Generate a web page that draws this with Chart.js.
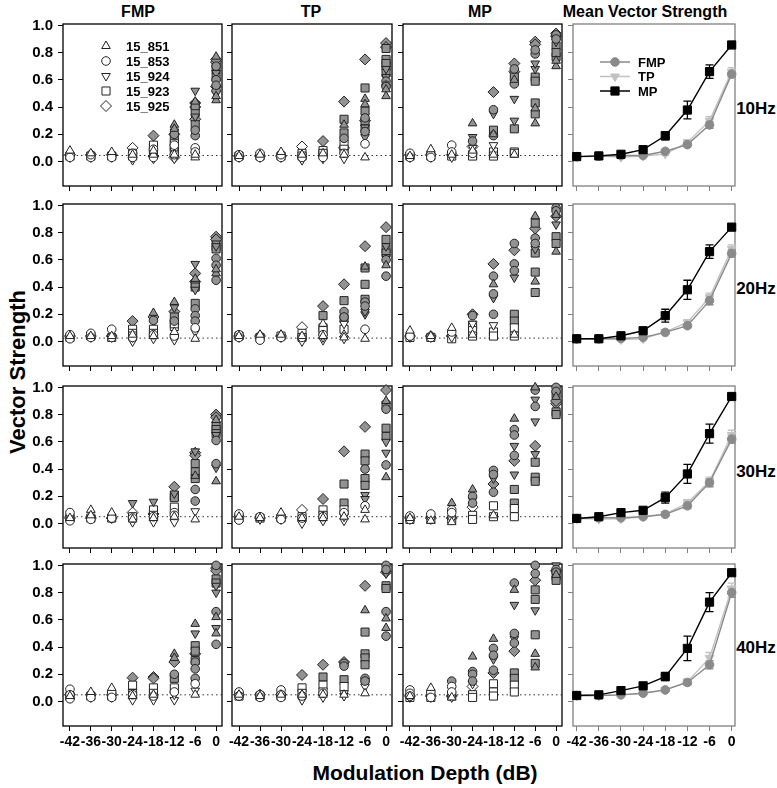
<!DOCTYPE html>
<html>
<head>
<meta charset="utf-8">
<script src="https://cdn.jsdelivr.net/npm/chart.js@4.4.1/dist/chart.umd.min.js"></script>
<style>
body { margin:0; background:#fff; width:777px; height:788px; position:relative; overflow:hidden; font-family:"Liberation Sans", Arial, sans-serif; color:#000; }
.lbl { position:absolute; white-space:nowrap; font-weight:bold; transform:translate(-50%,-50%); }
canvas { position:absolute; }
</style>
</head>
<body>
<div class="lbl" style="left:138px;top:12px;font-size:16px">FMP</div>
<div class="lbl" style="left:311px;top:12px;font-size:16px">TP</div>
<div class="lbl" style="left:480px;top:12px;font-size:16px">MP</div>
<div class="lbl" style="left:645px;top:12px;font-size:16px">Mean Vector Strength</div>
<div class="lbl" style="left:756px;top:109px;font-size:17px">10Hz</div>
<div class="lbl" style="left:756px;top:289px;font-size:17px">20Hz</div>
<div class="lbl" style="left:756px;top:472px;font-size:17px">30Hz</div>
<div class="lbl" style="left:756px;top:648px;font-size:17px">40Hz</div>
<div class="lbl" style="left:18px;top:372px;font-size:22px;transform:translate(-50%,-50%) rotate(-90deg)">Vector Strength</div>
<div class="lbl" style="left:425px;top:773px;font-size:21px">Modulation Depth (dB)</div>
<script>
// modulation depths (dB) and tick values
const depths = [-42, -36, -30, -24, -18, -12, -6, 0];
const yTicks = [0, 0.2, 0.4, 0.6, 0.8, 1.0];
const animals = ['15_851', '15_853', '15_924', '15_923', '15_925'];
const floorLevels = [0.044, 0.025, 0.05, 0.049]; // dotted noise floor per rate
const sigLevel = 0.14;

// scatter panels: one entry per animal (851, 853, 924, 923, 925), 8 depths each
const fmp10 = [
  [[0.08],[0.06],[0.07],[0.05],[0.05,0.08],[0.27,0.24,0.05],[0.44,0.03,0.05],[0.77,0.45,0.48]],
  [[0.05,0.03],[0.03,0.05],[0.04,0.03],[0.06,0.03],[0.03,0.09],[0.12,0.05,0.2],[0.19,0.23,0.1,0.07],[0.6,0.52,0.56,0.7]],
  [[0.03],[0.03],[0.03],[0.01,0.03],[0.02,0.06],[0.22,0.02,0.08],[0.52,0.33,0.05],[0.65,0.7,0.5]],
  [[0.04],[0.04],[0.04],[0.04,0.06],[0.07,0.1,0.12],[0.1,0.07,0.16,0.13],[0.27,0.36,0.41],[0.62,0.68]],
  [[0.05],[0.05],[0.05],[0.1],[0.19,0.04],[0.2,0.03],[0.4,0.43,0.31],[0.73,0.75,0.55]]
];
const tp10 = [
  [[0.04],[0.05],[0.07],[0.05],[0.06],[0.27,0.05],[0.46,0.42,0.03],[0.53,0.48]],
  [[0.05,0.03],[0.06,0.03],[0.03,0.05],[0.03],[0.03],[0.17,0.06],[0.32,0.13,0.22],[0.59,0.56,0.55]],
  [[0.03],[0.03],[0.03],[0.01],[0.02],[0.07,0.02],[0.18,0.25],[0.68,0.62]],
  [[0.04],[0.04],[0.04],[0.06,0.04],[0.08,0.05,0.06],[0.31,0.21,0.13,0.09],[0.54,0.37,0.29,0.24],[0.83,0.75,0.7,0.65,0.72]],
  [[0.04],[0.04],[0.04],[0.11],[0.15],[0.44,0.1],[0.75,0.3],[0.87,0.84]]
];
const mp10 = [
  [[0.04],[0.09],[0.05],[0.28,0.08],[0.2,0.05],[0.6,0.05],[0.28,0.39],[0.7,0.74]],
  [[0.06,0.03],[0.05,0.03],[0.12,0.07],[0.15,0.06],[0.38,0.19],[0.68,0.57],[0.79,0.82],[0.93,0.9]],
  [[0.03],[0.03],[0.03],[0.18,0.1],[0.35,0.12],[0.46,0.3],[0.68,0.72],[0.9,0.88]],
  [[0.04],[0.04],[0.04],[0.05,0.04],[0.23,0.07,0.04],[0.62,0.24,0.07,0.06],[0.62,0.59,0.43,0.35],[0.85,0.77,0.8]],
  [[0.05],[0.05],[0.05],[0.11],[0.51],[0.72,0.66],[0.88,0.86],[0.94,0.92]]
];
const fmp20 = [
  [[0.04],[0.04],[0.04],[0.05],[0.21,0.04],[0.29,0.07],[0.46,0.02],[0.5,0.53]],
  [[0.05,0.02],[0.06,0.03],[0.09,0.03],[0.03],[0.155,0.05],[0.15,0.04],[0.24,0.19,0.15,0.1],[0.61,0.56,0.45]],
  [[0.03],[0.03],[0.03],[0.0,0.03],[0.02],[0.25,0.01],[0.57,0.38,0.07],[0.72,0.7]],
  [[0.03],[0.04],[0.03],[0.09,0.06,0.04],[0.09,0.06],[0.18,0.11,0.13],[0.42,0.28,0.4],[0.7,0.68]],
  [[0.04],[0.04],[0.04],[0.15],[0.18],[0.22],[0.5,0.44],[0.77,0.75]]
];
const tp20 = [
  [[0.04],[0.05],[0.05],[0.04],[0.13,0.04],[0.05,0.03],[0.55,0.02],[0.56]],
  [[0.05,0.03],[0.01],[0.03],[0.03],[0.05],[0.22,0.18],[0.29,0.26,0.09],[0.6,0.48]],
  [[0.03],[0.03],[0.03],[0.0],[0.01,0.03],[0.13,0.02],[0.2,0.22],[0.7,0.62]],
  [[0.04],[0.03],[0.04],[0.06,0.03],[0.19,0.1,0.08],[0.3,0.17,0.09],[0.54,0.42,0.31],[0.75,0.68,0.65]],
  [[0.04],[0.04],[0.04],[0.105],[0.26],[0.42],[0.7],[0.84]]
];
const mp20 = [
  [[0.08],[0.04],[0.1],[0.05],[0.42],[0.05],[0.92,0.44],[0.66,0.93]],
  [[0.04],[0.03],[0.07],[0.19],[0.48,0.35,0.2],[0.72,0.57,0.52],[0.76,0.72],[0.98,0.96]],
  [[0.03],[0.03],[0.03],[0.13],[0.32,0.12],[0.47],[0.68],[0.86]],
  [[0.03],[0.03],[0.02],[0.12,0.08,0.04],[0.07,0.04],[0.2,0.15,0.1,0.04],[0.87,0.65,0.51,0.36],[0.77,0.72]],
  [[0.04],[0.04],[0.04],[0.2],[0.57],[0.67],[0.83],[0.92]]
];
const fmp30 = [
  [[0.04],[0.1,0.06],[0.08],[0.03],[0.04],[0.05],[0.35,0.03],[0.31,0.76]],
  [[0.08,0.02],[0.03],[0.04],[0.04],[0.05],[0.08,0.06],[0.25,0.165],[0.61,0.44]],
  [[0.04],[0.04],[0.04],[0.15,0.01],[0.16,0.01],[0.01,0.22],[0.53,0.09],[0.41,0.65]],
  [[0.04],[0.04],[0.04],[0.05],[0.1,0.06],[0.2,0.19,0.12],[0.44,0.38,0.33],[0.72,0.69,0.66]],
  [[0.04],[0.04],[0.04],[0.08],[0.07],[0.27],[0.52,0.5],[0.8,0.78]]
];
const tp30 = [
  [[0.05],[0.04],[0.08],[0.04],[0.04],[0.05],[0.03,0.1],[0.9,0.34]],
  [[0.07,0.025],[0.05],[0.05,0.03],[0.04],[0.05],[0.08],[0.4,0.13],[0.84,0.43]],
  [[0.04],[0.03],[0.03],[0.0],[0.02],[0.02,0.05],[0.21,0.18],[0.6,0.52]],
  [[0.04],[0.04],[0.04],[0.05],[0.1,0.06],[0.29,0.15,0.1],[0.51,0.46,0.33,0.28],[0.87,0.7,0.64]],
  [[0.05],[0.04],[0.04],[0.1],[0.18],[0.53],[0.71],[0.98]]
];
const mp30 = [
  [[0.04],[0.02],[0.15,0.01],[0.25],[0.06],[0.77],[1.0],[0.93]],
  [[0.055,0.03],[0.07],[0.1,0.08],[0.2,0.15],[0.39,0.36,0.23],[0.69,0.65,0.5],[0.98,0.86],[1.0,0.97]],
  [[0.03],[0.03],[0.03],[0.17],[0.33],[0.57,0.36],[0.91,0.75,0.51],[0.99]],
  [[0.03],[0.03],[0.03],[0.06,0.03],[0.13,0.05],[0.25,0.15,0.11,0.05],[0.45,0.34,0.31],[0.95,0.82,0.8]],
  [[0.04],[0.04],[0.04],[0.12],[0.29],[0.46],[0.57],[0.88,0.9]]
];
const fmp40 = [
  [[0.04],[0.07],[0.1],[0.04],[0.05],[0.35,0.32],[0.57,0.05],[0.62,0.5]],
  [[0.09,0.05,0.02],[0.03],[0.07,0.03],[0.05],[0.04],[0.2,0.07],[0.29,0.24,0.17,0.13],[1.0,0.66,0.42]],
  [[0.03],[0.03],[0.03],[0.01,0.07],[0.01],[0.01,0.05],[0.5,0.08],[0.8,0.54,0.85]],
  [[0.04],[0.04],[0.04],[0.12,0.05],[0.1,0.06],[0.17,0.1],[0.41,0.37,0.3],[0.9,0.87]],
  [[0.05],[0.05],[0.05],[0.175],[0.18,0.17],[0.29],[0.35],[0.98,0.96]]
];
const tp40 = [
  [[0.05],[0.04],[0.05],[0.05],[0.05],[0.05],[0.67,0.06],[0.61,0.54]],
  [[0.07,0.04],[0.05,0.03],[0.085,0.05,0.03],[0.04],[0.06],[0.28,0.26],[0.17,0.15],[1.0,0.97,0.66,0.48]],
  [[0.04],[0.04],[0.04],[0.01],[0.03],[0.06,0.04],[0.13,0.11],[0.94]],
  [[0.04],[0.04],[0.04],[0.1,0.06],[0.18,0.12,0.07],[0.16,0.11],[0.51,0.35,0.32,0.27],[0.85,0.83]],
  [[0.05],[0.05],[0.05],[0.195],[0.27],[0.29],[0.85],[0.95]]
];
const mp40 = [
  [[0.04],[0.1],[0.03],[0.33],[0.46],[0.82],[0.35,0.25],[0.93]],
  [[0.085,0.06,0.04],[0.07,0.03],[0.15,0.11,0.07],[0.22,0.2,0.15],[0.39,0.34,0.23],[0.87,0.5,0.43],[1.0,0.94],[0.97,0.95]],
  [[0.03],[0.03],[0.03],[0.13],[0.31],[0.71,0.46],[0.67],[1.0]],
  [[0.03],[0.03],[0.04],[0.05,0.03],[0.13,0.07,0.04],[0.21,0.17,0.12,0.07],[0.82,0.75,0.49,0.28],[0.92,0.89]],
  [[0.04],[0.04],[0.04],[0.11],[0.21],[0.37],[0.89],[0.96]]
];

// mean vector strength (rows: 10, 20, 30, 40 Hz) and error bars
const meanFMP = [
  [0.036,0.039,0.044,0.044,0.075,0.124,0.269,0.642],
  [0.02,0.02,0.022,0.03,0.067,0.116,0.30,0.647],
  [0.037,0.042,0.042,0.05,0.067,0.13,0.30,0.62],
  [0.044,0.044,0.049,0.061,0.085,0.14,0.27,0.80]
];
const meanTP = [
  [0.036,0.04,0.032,0.04,0.055,0.14,0.30,0.66],
  [0.02,0.02,0.014,0.02,0.07,0.14,0.325,0.68],
  [0.037,0.032,0.035,0.05,0.07,0.15,0.31,0.65],
  [0.044,0.044,0.049,0.061,0.085,0.146,0.32,0.83]
];
const meanMP = [
  [0.036,0.041,0.053,0.087,0.189,0.378,0.66,0.856],
  [0.02,0.02,0.042,0.079,0.19,0.38,0.66,0.84],
  [0.037,0.05,0.08,0.097,0.19,0.364,0.66,0.933],
  [0.044,0.049,0.08,0.115,0.183,0.39,0.73,0.946]
];
const errFMP = [
  [0.004,0.004,0.005,0.005,0.01,0.015,0.025,0.025],
  [0.004,0.004,0.005,0.005,0.01,0.015,0.03,0.025],
  [0.004,0.004,0.005,0.005,0.01,0.02,0.03,0.03],
  [0.004,0.004,0.005,0.005,0.01,0.02,0.03,0.035]
];
const errTP = [
  [0.004,0.004,0.005,0.005,0.01,0.02,0.03,0.03],
  [0.004,0.004,0.005,0.005,0.01,0.02,0.03,0.03],
  [0.004,0.004,0.005,0.005,0.01,0.025,0.03,0.035],
  [0.004,0.004,0.005,0.005,0.01,0.02,0.04,0.04]
];
const errMP = [
  [0.005,0.005,0.008,0.012,0.03,0.065,0.05,0.01],
  [0.005,0.005,0.01,0.012,0.047,0.07,0.05,0.015],
  [0.005,0.006,0.012,0.012,0.04,0.07,0.07,0.008],
  [0.005,0.006,0.01,0.012,0.03,0.09,0.07,0.008]
];

const scatterRows = [[fmp10, tp10, mp10], [fmp20, tp20, mp20], [fmp30, tp30, mp30], [fmp40, tp40, mp40]];

// layout
const colX = [63, 232, 403, 573];
const colW = [159, 160, 159, 162];
const rowY = [24, 204, 386, 564];
const rowH = 162;
const FONT = 'Liberation Sans';
const GRAY = '#929292';
const EDGE = '#222';

const markers = [
  { pointStyle: 'triangle', rotation: 0, radius: 5 },
  { pointStyle: 'circle', rotation: 0, radius: 4.3 },
  { pointStyle: 'triangle', rotation: 180, radius: 5 },
  { pointStyle: 'rect', rotation: 0, radius: 5.7 },
  { pointStyle: 'rectRot', rotation: 0, radius: 5.5 }
];

function drawMarker(ctx, m, x, y, fill, stroke) {
  ctx.save();
  ctx.fillStyle = fill;
  ctx.strokeStyle = stroke;
  ctx.lineWidth = 1;
  Chart.helpers.drawPoint(ctx, { pointStyle: m.pointStyle, rotation: m.rotation, radius: m.radius, borderWidth: 1 }, x, y);
  ctx.restore();
}

const framePlugin = {
  id: 'frame',
  beforeDatasetsDraw(chart, args, opts) {
    const a = chart.chartArea, c = chart.ctx;
    c.save();
    c.strokeStyle = opts.color || '#000';
    c.lineWidth = 1.3;
    c.strokeRect(a.left, a.top, a.right - a.left, a.bottom - a.top);
    c.restore();
  }
};

const errorBarPlugin = {
  id: 'errbars',
  beforeDatasetsDraw(chart) {
    const c = chart.ctx, xs = chart.scales.x, ys = chart.scales.y;
    chart.data.datasets.forEach(ds => {
      if (!ds.errors) return;
      c.save();
      c.strokeStyle = ds.borderColor;
      c.lineWidth = 1.3;
      ds.data.forEach((p, i) => {
        const e = ds.errors[i];
        const x = xs.getPixelForValue(p.x);
        const y1 = ys.getPixelForValue(p.y - e), y2 = ys.getPixelForValue(p.y + e);
        c.beginPath();
        c.moveTo(x, y1); c.lineTo(x, y2);
        c.moveTo(x - 4, y1); c.lineTo(x + 4, y1);
        c.moveTo(x - 4, y2); c.lineTo(x + 4, y2);
        c.stroke();
      });
      c.restore();
    });
  }
};

const legendPlugin = {
  id: 'boxLegend',
  afterDatasetsDraw(chart, args, opts) {
    if (!opts.items) return;
    const a = chart.chartArea, c = chart.ctx;
    c.save();
    c.font = 'bold 13px "' + FONT + '"';
    c.textBaseline = 'middle';
    opts.items.forEach((it, i) => {
      const y = a.top + opts.top + i * opts.step;
      const mx = a.left + opts.markerX;
      if (it.line) {
        c.strokeStyle = it.line;
        c.lineWidth = 1.5;
        c.beginPath();
        c.moveTo(mx - 15, y); c.lineTo(mx + 15, y);
        c.stroke();
      }
      drawMarker(c, it.marker, mx, y, it.fill, it.stroke);
      c.fillStyle = '#000';
      c.fillText(it.label, a.left + opts.textX, y + 1);
    });
    c.restore();
  }
};

function makePanel(row, col, datasets, legendOpts) {
  const padL = col === 0 ? 63 : 8;
  const padB = row === 3 ? 32 : 8;
  const padT = 8, padR = 8;
  const w = colW[col] + padL + padR, h = rowH + padT + padB;
  const cv = document.createElement('canvas');
  cv.width = w; cv.height = h;
  cv.style.left = (colX[col] - padL) + 'px';
  cv.style.top = (rowY[row] - padT) + 'px';
  cv.style.width = w + 'px'; cv.style.height = h + 'px';
  document.body.appendChild(cv);
  const isMean = col === 3;
  const axisColor = isMean ? '#808080' : '#000';
  new Chart(cv, {
    type: 'scatter',
    data: { datasets: datasets },
    options: {
      responsive: false,
      animation: false,
      devicePixelRatio: 1,
      layout: { padding: { top: padT, right: padR, left: 0, bottom: 0 } },
      plugins: {
        legend: { display: false },
        tooltip: { enabled: false },
        frame: { color: axisColor },
        boxLegend: legendOpts || {}
      },
      scales: {
        x: {
          type: 'linear',
          min: isMean ? -43 : -44,
          max: isMean ? 0.9 : 1.7,
          afterFit: s => { s.height = padB; s.paddingLeft = 0; s.paddingRight = 0; },
          afterBuildTicks: s => { s.ticks = depths.map(v => ({ value: v })); },
          grid: { display: true, drawOnChartArea: false, drawTicks: true, tickLength: 5, color: axisColor },
          border: { display: false },
          ticks: {
            display: row === 3, autoSkip: false, maxRotation: 0, padding: 3, color: '#000',
            font: { family: FONT, size: 14, weight: 'bold' },
            callback: v => String(v)
          }
        },
        y: {
          min: -0.18,
          max: 1.01,
          afterFit: s => { s.width = padL; s.paddingTop = 0; s.paddingBottom = 0; },
          afterBuildTicks: s => { s.ticks = yTicks.map(v => ({ value: v })); },
          grid: { display: true, drawOnChartArea: false, drawTicks: true, tickLength: 5, color: axisColor },
          border: { display: false },
          ticks: {
            display: col === 0, padding: 5, color: '#000',
            font: { family: FONT, size: 15, weight: 'bold' },
            callback: v => v.toFixed(1)
          }
        }
      }
    },
    plugins: [framePlugin, errorBarPlugin, legendPlugin]
  });
}

// scatter panels
scatterRows.forEach((rowSets, r) => {
  rowSets.forEach((panel, c) => {
    const ds = panel.map((animal, k) => {
      const pts = [];
      animal.forEach((vals, d) => vals.forEach(v => pts.push({ x: depths[d], y: v })));
      return {
        label: animals[k],
        data: pts,
        clip: false,
        pointStyle: markers[k].pointStyle,
        pointRotation: markers[k].rotation,
        pointRadius: markers[k].radius,
        pointBorderWidth: 1,
        pointBorderColor: EDGE,
        pointBackgroundColor: ctx => (ctx.raw && ctx.raw.y > sigLevel ? GRAY : '#fff')
      };
    });
    ds.push({
      type: 'line',
      data: [{ x: -44, y: floorLevels[r] }, { x: 1.7, y: floorLevels[r] }],
      borderColor: '#333',
      borderWidth: 1,
      borderDash: [1.5, 3],
      pointRadius: 0,
      showLine: true
    });
    let legendOpts = null;
    if (r === 0 && c === 0) {
      legendOpts = {
        top: 22, step: 15, markerX: 43, textX: 63,
        items: animals.map((a, k) => ({ label: a, marker: markers[k], fill: '#fff', stroke: EDGE }))
      };
    }
    makePanel(r, c, ds, legendOpts);
  });
});

// mean panels
const meanStyles = [
  { label: 'MP', color: '#000', marker: { pointStyle: 'rect', rotation: 0, radius: 5.8 } },
  { label: 'FMP', color: '#8a8a8a', marker: { pointStyle: 'circle', rotation: 0, radius: 4.3 } },
  { label: 'TP', color: '#c2c2c2', marker: { pointStyle: 'triangle', rotation: 180, radius: 5 } }
];
const meanSeries = [meanMP, meanFMP, meanTP];
const meanErrors = [errMP, errFMP, errTP];

for (let r = 0; r < 4; r++) {
  const ds = meanStyles.map((st, k) => ({
    type: 'line',
    label: st.label,
    data: meanSeries[k][r].map((v, d) => ({ x: depths[d], y: v })),
    errors: meanErrors[k][r],
    clip: false,
    borderColor: st.color,
    borderWidth: 1.4,
    backgroundColor: st.color,
    pointStyle: st.marker.pointStyle,
    pointRotation: st.marker.rotation,
    pointRadius: st.marker.radius,
    pointBorderWidth: 1,
    pointBorderColor: st.color,
    pointBackgroundColor: st.color,
    showLine: true,
    tension: 0
  }));
  let legendOpts = null;
  if (r === 0) {
    const order = [1, 2, 0];
    legendOpts = {
      top: 38, step: 14.5, markerX: 42, textX: 65,
      items: order.map(k => ({
        label: meanStyles[k].label, marker: meanStyles[k].marker,
        fill: meanStyles[k].color, stroke: meanStyles[k].color, line: meanStyles[k].color
      }))
    };
  }
  makePanel(r, 3, ds, legendOpts);
}
</script>
</body>
</html>
